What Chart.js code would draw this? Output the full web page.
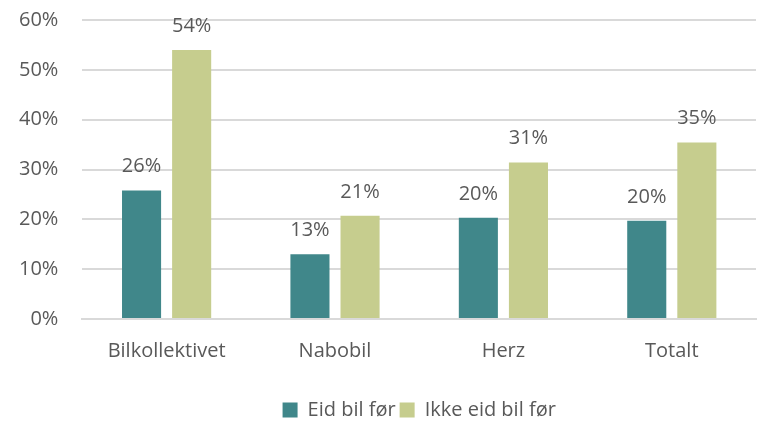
<!DOCTYPE html>
<html>
<head>
<meta charset="utf-8">
<script src="https://cdn.jsdelivr.net/npm/chart.js@4.4.0/dist/chart.umd.min.js"></script>
<style>
  html, body { margin: 0; padding: 0; background: #fff; }
  #wrap { width: 768px; height: 422px; }
</style>
</head>
<body>
<div id="wrap"><canvas id="chart" width="768" height="422"></canvas></div>
<script>
// Data
const categories = ['Bilkollektivet', 'Nabobil', 'Herz', 'Totalt'];
const seriesNames = ['Eid bil før', 'Ikke eid bil før'];
const eidBilFor = [25.8, 13.0, 20.3, 19.7];
const ikkeEidBilFor = [54.0, 20.7, 31.4, 35.4];
const yTicks = [0, 10, 20, 30, 40, 50, 60];

const teal = '#40878A';
const olive = '#C6CD8E';
const textColor = '#595959';
const fontFamily = '"Open Sans", "Noto Sans", sans-serif';

// Draws the value above each bar
const valueLabels = {
  id: 'valueLabels',
  afterDatasetsDraw(chart) {
    const ctx = chart.ctx;
    ctx.save();
    ctx.font = '20px ' + fontFamily;
    ctx.fillStyle = textColor;
    ctx.textAlign = 'center';
    ctx.textBaseline = 'bottom';
    chart.data.datasets.forEach((ds, i) => {
      chart.getDatasetMeta(i).data.forEach((bar, j) => {
        ctx.fillText(Math.round(ds.data[j]) + '%', bar.x, bar.y - 14);
      });
    });
    ctx.restore();
  }
};

new Chart(document.getElementById('chart'), {
  type: 'bar',
  data: {
    labels: categories,
    datasets: [
      { label: seriesNames[0], data: eidBilFor, backgroundColor: teal },
      { label: seriesNames[1], data: ikkeEidBilFor, backgroundColor: olive }
    ]
  },
  options: {
    responsive: false,
    animation: false,
    layout: { padding: { left: -5, right: 12, top: 20, bottom: -8 } },
    datasets: {
      bar: { categoryPercentage: 0.595, barPercentage: 0.78 }
    },
    plugins: {
      legend: {
        position: 'bottom',
        fullSize: false,
        labels: {
          color: textColor,
          font: { family: fontFamily, size: 20 },
          boxWidth: 15,
          boxHeight: 15,
          padding: 4
        }
      },
      tooltip: { enabled: false }
    },
    scales: {
      x: {
        grid: { display: false },
        border: { color: '#d9d9d9', width: 2 },
        ticks: { color: textColor, font: { family: fontFamily, size: 20 }, padding: 12 },
        afterFit(scale) { scale.height += 21; }
      },
      y: {
        min: 0,
        max: 60,
        afterBuildTicks(axis) { axis.ticks = yTicks.map(v => ({ value: v })); },
        afterFit(scale) { scale.paddingTop = 0; },
        grid: { color: '#d9d9d9', lineWidth: 2, drawTicks: false },
        border: { display: false },
        ticks: {
          color: textColor,
          font: { family: fontFamily, size: 20 },
          padding: 24,
          callback: v => v + '%'
        }
      }
    }
  },
  plugins: [valueLabels]
});
</script>
</body>
</html>
